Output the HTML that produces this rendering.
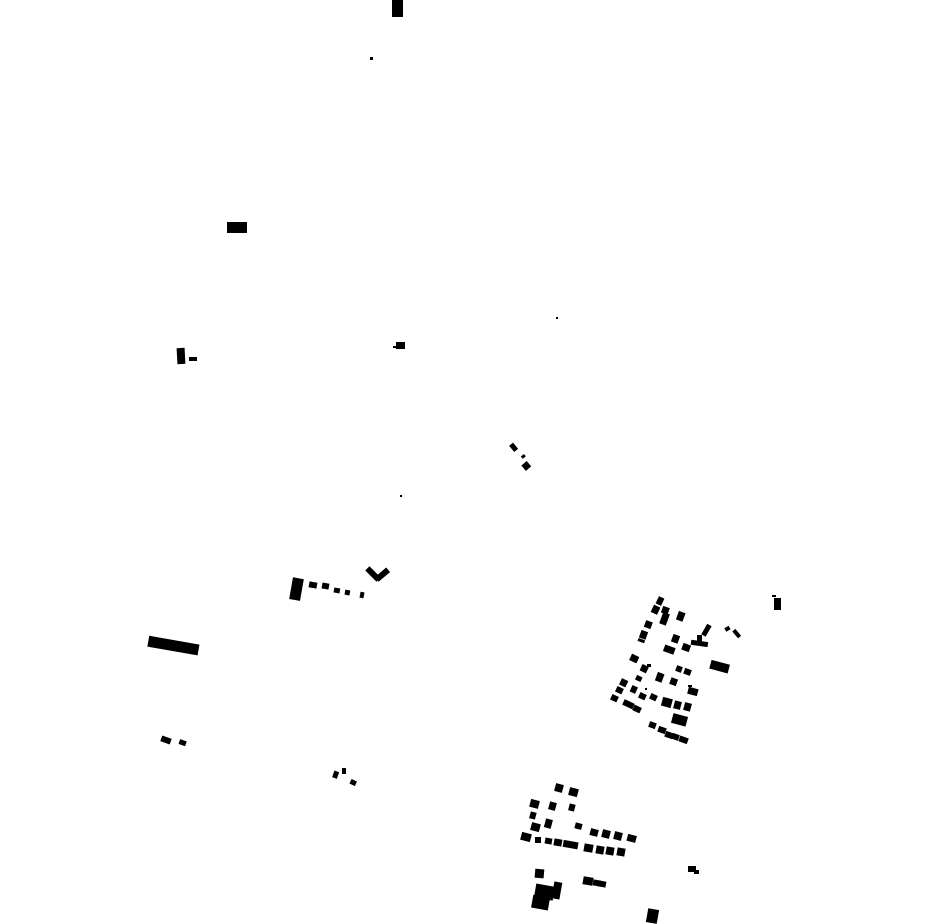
<!DOCTYPE html>
<html><head><style>html,body{margin:0;padding:0;background:#fff}svg{display:block}</style></head>
<body>
<svg width="930" height="924" viewBox="0 0 930 924" xmlns="http://www.w3.org/2000/svg" fill="#000">
<rect x="392" y="0" width="11" height="17"/>
<rect x="370" y="57" width="3" height="3"/>
<rect x="227" y="222" width="20" height="11"/>
<rect x="177" y="348" width="8" height="16" transform="rotate(-3 181 356)"/>
<rect x="189" y="357" width="8" height="4"/>
<rect x="396" y="342" width="9" height="7"/>
<rect x="393" y="346" width="3" height="2"/>
<rect x="556" y="317" width="2" height="2"/>
<rect x="400" y="495" width="2" height="2"/>
<rect x="511" y="443" width="5" height="8" transform="rotate(-40 514 447)"/>
<rect x="521" y="455" width="4" height="3" transform="rotate(-40 523 456)"/>
<rect x="523" y="462" width="7" height="7" transform="rotate(-40 527 466)"/>
<!-- L shape -->
<rect x="365" y="571" width="16" height="6" transform="rotate(45 373 574)"/>
<rect x="375" y="572" width="15" height="6" transform="rotate(-40 382 575)"/>
<rect x="291" y="578" width="11" height="22" transform="rotate(10 296 589)"/>
<rect x="309" y="582" width="8" height="6" transform="rotate(10 313 585)"/>
<rect x="322" y="583" width="7" height="6" transform="rotate(10 325 586)"/>
<rect x="334" y="588" width="6" height="5" transform="rotate(10 337 590)"/>
<rect x="345" y="590" width="5" height="5" transform="rotate(10 347 592)"/>
<rect x="360" y="592" width="4" height="6" transform="rotate(10 362 595)"/>
<rect x="148" y="640" width="51" height="11" transform="rotate(10 173 645)"/>
<rect x="161" y="737" width="10" height="6" transform="rotate(20 166 740)"/>
<rect x="179" y="740" width="7" height="5" transform="rotate(20 182 743)"/>
<rect x="333" y="771" width="5" height="7" transform="rotate(20 335 775)"/>
<rect x="342" y="768" width="4" height="6"/>
<rect x="350" y="780" width="6" height="5" transform="rotate(25 353 783)"/>
<!-- cluster 1 -->
<g>
<rect x="657" y="597" width="6" height="8" transform="rotate(25 660 601)"/>
<rect x="652" y="606" width="7" height="8" transform="rotate(25 656 610)"/>
<rect x="662" y="607" width="7" height="7" transform="rotate(20 666 610)"/>
<rect x="661" y="613" width="7" height="12" transform="rotate(20 665 619)"/>
<rect x="677" y="612" width="7" height="9" transform="rotate(20 681 617)"/>
<rect x="645" y="621" width="7" height="7" transform="rotate(20 648 624)"/>
<rect x="640" y="631" width="7" height="8" transform="rotate(20 644 635)"/>
<rect x="638" y="639" width="7" height="3" transform="rotate(20 641 640)"/>
<rect x="672" y="635" width="7" height="8" transform="rotate(20 676 639)"/>
<rect x="664" y="646" width="11" height="7" transform="rotate(20 669 649)"/>
<rect x="682" y="644" width="8" height="7" transform="rotate(20 686 648)"/>
<rect x="704" y="624" width="5" height="12" transform="rotate(30 706 630)"/>
<rect x="691" y="641" width="17" height="5" transform="rotate(8 700 643)"/>
<rect x="697" y="635" width="5" height="8"/>
<rect x="725" y="627" width="5" height="4" transform="rotate(-30 727 629)"/>
<rect x="735" y="629" width="4" height="9" transform="rotate(-40 737 634)"/>
<rect x="710" y="662" width="19" height="9" transform="rotate(15 719 667)"/>
<rect x="774" y="598" width="7" height="12"/>
<rect x="772" y="595" width="4" height="2"/>
<rect x="630" y="655" width="8" height="7" transform="rotate(25 634 659)"/>
<rect x="641" y="665" width="7" height="7" transform="rotate(25 644 668)"/>
<rect x="647" y="664" width="4" height="3"/>
<rect x="636" y="676" width="6" height="5" transform="rotate(25 639 678)"/>
<rect x="656" y="673" width="7" height="9" transform="rotate(20 660 678)"/>
<rect x="670" y="678" width="7" height="7" transform="rotate(20 673 682)"/>
<rect x="676" y="666" width="6" height="6" transform="rotate(20 679 669)"/>
<rect x="684" y="669" width="7" height="6" transform="rotate(20 688 672)"/>
<rect x="620" y="679" width="7" height="7" transform="rotate(25 623 683)"/>
<rect x="616" y="687" width="7" height="6" transform="rotate(25 619 690)"/>
<rect x="611" y="695" width="7" height="6" transform="rotate(25 614 698)"/>
<rect x="631" y="686" width="6" height="7" transform="rotate(25 634 689)"/>
<rect x="639" y="693" width="7" height="6" transform="rotate(25 642 696)"/>
<rect x="650" y="694" width="7" height="6" transform="rotate(25 653 697)"/>
<rect x="645" y="688" width="2" height="2"/>
<rect x="662" y="698" width="10" height="9" transform="rotate(15 667 702)"/>
<rect x="674" y="701" width="7" height="8" transform="rotate(15 677 705)"/>
<rect x="684" y="703" width="7" height="8" transform="rotate(15 688 707)"/>
<rect x="688" y="688" width="10" height="7" transform="rotate(15 693 691)"/>
<rect x="688" y="685" width="4" height="2"/>
<rect x="623" y="701" width="11" height="6" transform="rotate(25 628 704)"/>
<rect x="633" y="706" width="8" height="6" transform="rotate(25 637 709)"/>
<rect x="649" y="722" width="7" height="6" transform="rotate(20 652 725)"/>
<rect x="658" y="727" width="8" height="6" transform="rotate(20 662 730)"/>
<rect x="665" y="732" width="8" height="6" transform="rotate(20 669 735)"/>
<rect x="672" y="734" width="7" height="6" transform="rotate(20 676 737)"/>
<rect x="679" y="737" width="9" height="6" transform="rotate(20 684 740)"/>
<rect x="672" y="715" width="15" height="10" transform="rotate(15 680 720)"/>
</g>
<!-- cluster 2 -->
<g>
<rect x="555" y="784" width="8" height="8" transform="rotate(15 559 788)"/>
<rect x="569" y="788" width="9" height="8" transform="rotate(15 573 792)"/>
<rect x="530" y="800" width="9" height="8" transform="rotate(15 535 804)"/>
<rect x="549" y="802" width="7" height="8" transform="rotate(15 552 806)"/>
<rect x="569" y="804" width="6" height="7" transform="rotate(15 572 807)"/>
<rect x="530" y="812" width="6" height="7" transform="rotate(15 533 815)"/>
<rect x="545" y="819" width="7" height="9" transform="rotate(15 548 823)"/>
<rect x="531" y="823" width="9" height="8" transform="rotate(15 535 827)"/>
<rect x="575" y="823" width="7" height="6" transform="rotate(15 578 826)"/>
<rect x="590" y="829" width="8" height="7" transform="rotate(15 594 833)"/>
<rect x="602" y="830" width="8" height="8" transform="rotate(15 606 834)"/>
<rect x="614" y="832" width="8" height="8" transform="rotate(15 618 836)"/>
<rect x="627" y="835" width="9" height="7" transform="rotate(15 632 839)"/>
<rect x="521" y="833" width="10" height="8" transform="rotate(15 526 837)"/>
<rect x="535" y="837" width="6" height="6"/>
<rect x="545" y="838" width="7" height="6" transform="rotate(10 548 841)"/>
<rect x="554" y="839" width="8" height="7" transform="rotate(10 558 842)"/>
<rect x="563" y="841" width="15" height="7" transform="rotate(10 570 845)"/>
<rect x="584" y="844" width="9" height="8" transform="rotate(10 588 848)"/>
<rect x="596" y="846" width="8" height="8" transform="rotate(10 600 850)"/>
<rect x="606" y="847" width="8" height="8" transform="rotate(10 610 851)"/>
<rect x="617" y="848" width="8" height="8" transform="rotate(10 621 852)"/>
<rect x="535" y="869" width="9" height="9" transform="rotate(5 539 873)"/>
<rect x="535" y="885" width="19" height="14" transform="rotate(10 544 892)"/>
<rect x="532" y="896" width="17" height="13" transform="rotate(10 540 903)"/>
<rect x="553" y="882" width="8" height="17" transform="rotate(10 557 890)"/>
<rect x="583" y="877" width="10" height="8" transform="rotate(10 588 881)"/>
<rect x="593" y="880" width="8" height="6" transform="rotate(10 597 883)"/>
<rect x="598" y="881" width="8" height="6" transform="rotate(10 602 884)"/>
<rect x="688" y="866" width="8" height="6"/>
<rect x="694" y="870" width="5" height="4"/>
<rect x="647" y="909" width="11" height="14" transform="rotate(10 652 916)"/>
</g>
</svg>
</body></html>
